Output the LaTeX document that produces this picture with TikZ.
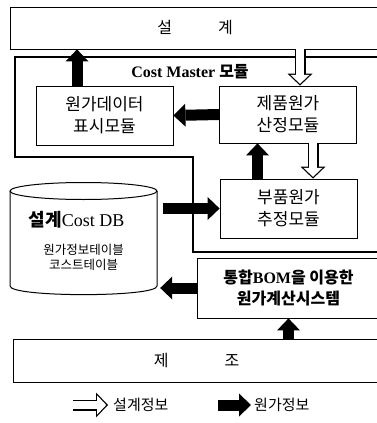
\documentclass[tikz,border=0pt]{standalone}
\usepackage{fontspec}
\setmainfont{Liberation Serif}
\newfontfamily\kr{Noto Sans CJK KR}
\usetikzlibrary{arrows.meta}

\tikzset{
  bandbox/.style={draw,line width=0.8pt,font=\kr\fontsize{16}{18}\selectfont},
  modbox/.style={draw,line width=0.8pt,minimum width=137pt,minimum height=59pt,
    align=center,font=\kr\fontsize{17}{22}\selectfont},
  costarrow/.style={line width=11pt,-{Triangle[length=12pt,width=23pt,line width=0pt]}},
  designarrow/.style={white,line width=8.6pt,shorten >=1.8pt,
    -{Triangle[length=9pt,width=19pt,line width=0pt]},
    preaction={draw=black,line width=11pt,shorten >=0pt,
      -{Triangle[length=12pt,width=25pt,line width=0pt]}}},
  legendtext/.style={font=\kr\fontsize{15}{17}\selectfont,inner sep=0pt}
}

\begin{document}
\begin{tikzpicture}[x=1pt,y=-1pt]
    \useasboundingbox (0,0) rectangle (376,423);
    % top and bottom bands
    \node[bandbox,minimum width=370pt,minimum height=42pt] (design) at (195,28) {설\hspace{46pt}계};
    \node[bandbox,minimum width=367pt,minimum height=43pt] (mfg) at (196.5,360.5) {제\hspace{56pt}조};
    % Cost Master outline
    \draw[line width=2.5pt] (385,57) -| (15,157) -| (193,252) -- (385,252);
    \node[font=\bfseries\fontsize{16}{18}\selectfont] (cmlabel) at (190,72) {Cost Master {\kr 모듈}};
    % modules
    \node[modbox] (dispmod) at (104.5,115.5) {원가데이터\\표시모듈};
    \node[modbox,minimum height=57pt] (prodmod) at (288,114.5) {제품원가\\산정모듈};
    \node[modbox] (partmod) at (288.5,208.5) {부품원가\\추정모듈};
    \node[modbox,minimum width=183pt,minimum height=60pt,font=\kr\bfseries\fontsize{16}{21}\selectfont]
      (bomsys) at (288.5,288) {통합{\rmfamily BOM}을 이용한\\원가계산시스템};
    % database
    \node[minimum width=147pt,minimum height=112pt,inner sep=0pt] (dbcyl) at (83.5,239) {};
    \draw[line width=1pt] (83.5,191) ellipse (73.5 and 8.5);
    \draw[line width=1pt] (10,191) -- (10,286) .. controls (10,297.5) and (157,297.5) .. (157,286) -- (157,191);
    \node[font=\fontsize{18}{20}\selectfont] (dbtitle) at ([xshift=-7pt,yshift=19pt]dbcyl.center)
      {{\kr\bfseries 설계}Cost DB};
    \node[align=center,font=\kr\fontsize{12.5}{15.5}\selectfont] (dbtables)
      at ([yshift=-18.5pt]dbcyl.center) {원가정보테이블\\코스트테이블};
    % flows
    \coordinate (upA) at ([xshift=-27.5pt]dispmod.north);
    \draw[costarrow] (upA) -- (upA |- design.south);
    \coordinate (dnA) at ([xshift=12pt]prodmod.north);
    \draw[designarrow] (dnA |- design.south) -- (dnA);
    \draw[costarrow] (prodmod.west) -- (dispmod.east);
    \coordinate (upB) at ([xshift=-31pt]partmod.north);
    \draw[costarrow] (upB) -- (upB |- prodmod.south);
    \coordinate (dnB) at ([xshift=25pt]prodmod.south);
    \draw[designarrow] (dnB) -- (dnB |- partmod.north);
    \coordinate (dbR) at ([xshift=6pt]dbcyl.east);
    \draw[costarrow] (dbR |- partmod.west) -- (partmod.west);
    \coordinate (dbL) at ([xshift=3pt]dbcyl.east);
    \draw[costarrow] (bomsys.west) -- (dbL |- bomsys.west);
    \draw[costarrow] (bomsys.south |- mfg.north) -- (bomsys.south);
    % legend
    \coordinate (lgD1) at (73,405);
    \coordinate (lgD2) at (108,405);
    \draw[designarrow] (lgD1) -- (lgD2);
    \node[legendtext,anchor=west] (lgDtext) at (113,405) {설계정보};
    \coordinate (lgC1) at (218,405);
    \coordinate (lgC2) at (251,405);
    \draw[costarrow] (lgC1) -- (lgC2);
    \node[legendtext,anchor=west] (lgCtext) at (254,405) {원가정보};
  \end{tikzpicture}
\end{document}
